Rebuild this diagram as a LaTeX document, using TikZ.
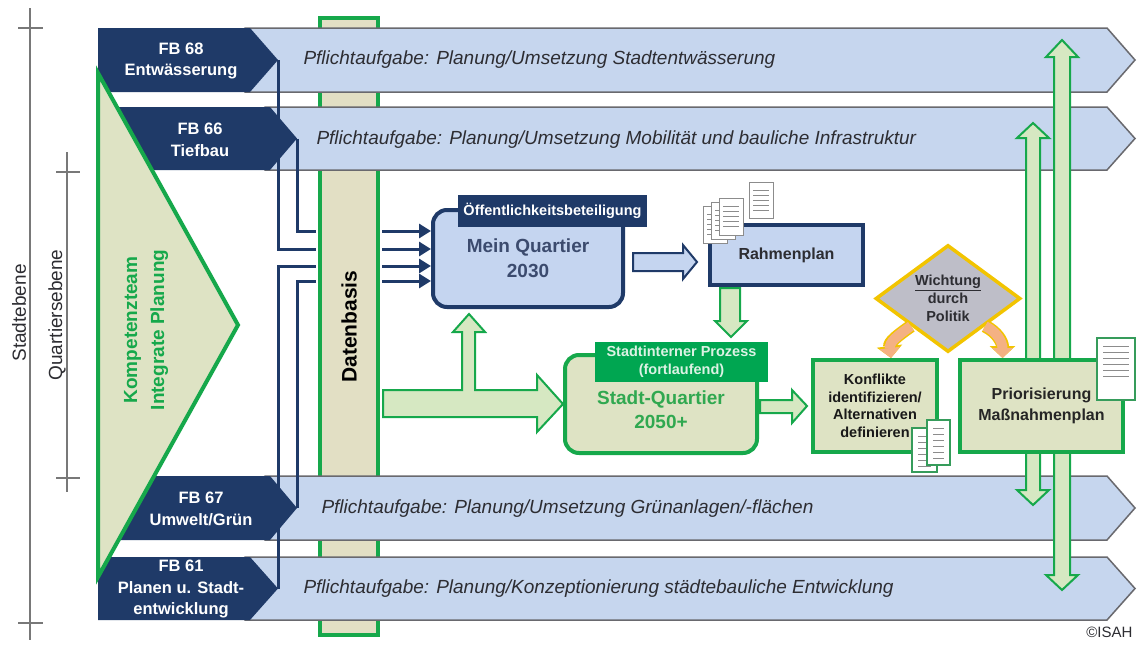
\documentclass[tikz,border=0pt]{standalone}
\usepackage{fontspec}
\setmainfont{Liberation Sans}
\usepackage{tikz}
\usetikzlibrary{arrows,arrows.meta,shapes,calc}
\definecolor{bandblue}{RGB}{198,214,238}
\definecolor{bandgray}{RGB}{105,105,110}
\definecolor{fbblue}{RGB}{31,58,104}
\definecolor{boxblue}{RGB}{197,213,240}
\definecolor{kgreen}{RGB}{22,168,75}
\definecolor{kbeige}{RGB}{222,227,196}
\definecolor{colbeige}{RGB}{226,223,196}
\definecolor{arrowfill}{RGB}{214,232,194}
\definecolor{headgreen}{RGB}{0,166,81}
\definecolor{sqgreen}{RGB}{48,168,80}
\definecolor{mqtext}{RGB}{60,75,110}
\definecolor{textgray}{RGB}{45,45,50}
\definecolor{axisgray}{RGB}{120,120,120}
\definecolor{dgray}{RGB}{190,190,200}
\definecolor{gold}{RGB}{242,196,0}
\definecolor{arroworange}{RGB}{244,177,131}
\definecolor{docgray}{RGB}{140,140,140}
\tikzstyle{bandlight}=[fill=bandblue,draw=bandgray,line width=1.5pt]
\tikzstyle{banddark}=[fill=fbblue]
\tikzstyle{bandtext}=[anchor=west,text=textgray,font=\fontsize{19}{22}\selectfont\itshape]
\tikzstyle{fblabel}=[align=center,text=white,font=\fontsize{16.5}{21.5}\selectfont\bfseries]
\tikzstyle{axis}=[draw=axisgray,line width=1.5pt]
\tikzstyle{axistext}=[rotate=90,text=textgray,font=\fontsize{19}{22}\selectfont]
\tikzstyle{feed}=[draw=fbblue,line width=3pt]
\tikzstyle{feedarrow}=[feed,-{Triangle[length=12pt,width=14pt]}]
\tikzstyle{dbcol}=[draw=kgreen,line width=4pt,fill=colbeige]
\tikzstyle{greenbox}=[draw=kgreen,line width=4pt,fill=kbeige]
\tikzstyle{bluebox}=[draw=fbblue,line width=4pt,fill=boxblue]
\tikzstyle{greenarrow}=[draw=kgreen,line width=2pt,fill=arrowfill]
\tikzstyle{bluearrow}=[draw=fbblue,line width=2pt,fill=boxblue]
\tikzstyle{docpage}=[draw=docgray,fill=white,line width=0.8pt]
\tikzstyle{docpagegreen}=[draw=kgreen!70!gray,fill=white,line width=1.2pt]
\tikzstyle{docline}=[draw=docgray,line width=0.6pt]
\tikzstyle{politik}=[draw=arroworange,line width=10pt,-{Triangle[length=10pt,width=20pt]},
  preaction={draw=gold,line width=13pt,-{Triangle[length=12pt,width=25pt]}}]

\begin{document}
\begin{tikzpicture}[x=1pt,y=-1pt]
	\useasboundingbox (0,0) rectangle (1137,645);
	\fill[white] (0,0) rectangle (1137,645);
	% levels
	\draw[axis] (30,8) -- (30,640);
	\draw[axis] (18,28) -- (43,28);
	\draw[axis] (18,623) -- (43,623);
	\node[axistext] (stadt) at (19,313) {Stadtebene};
	\draw[axis] (67,152) -- (67,492);
	\draw[axis] (56,172) -- (80,172);
	\draw[axis] (56,478) -- (80,478);
	\node[axistext] (quartier) at (57,315) {Quartiersebene};
	% data column
	\node[dbcol,minimum width=58pt,minimum height=617pt] (db) at (349,326.5) {};
	\node[rotate=90,font=\fontsize{21}{24}\selectfont\bfseries] (dbtext) at (db.center) {Datenbasis};
	% bands
	\draw[bandlight] (245,28) -- (1107,28) -- (1135,60) -- (1107,92) -- (245,92) -- cycle;
	\fill[banddark] (98,28) -- (250,28) -- (278,60) coordinate (fb68tip) -- (250,92) -- (98,92) -- cycle;
	\draw[bandlight] (265,107) -- (1107,107) -- (1135,138.5) -- (1107,170) -- (265,170) -- cycle;
	\fill[banddark] (98,107) -- (270,107) -- (297,138.5) coordinate (fb66tip) -- (270,170) -- (98,170) -- cycle;
	\draw[bandlight] (265,476) -- (1107,476) -- (1135,508) -- (1107,540) -- (265,540) -- cycle;
	\fill[banddark] (98,476) -- (270,476) -- (297,508) coordinate (fb67tip) -- (270,540) -- (98,540) -- cycle;
	\draw[bandlight] (245,557) -- (1107,557) -- (1135,588.5) -- (1107,620) -- (245,620) -- cycle;
	\fill[banddark] (98,557) -- (250,557) -- (278,588.5) coordinate (fb61tip) -- (250,620) -- (98,620) -- cycle;
	\node[bandtext] (t68) at (300,60) {Pflichtaufgabe: Planung/Umsetzung Stadtentwässerung};
	\node[bandtext] (t66) at (313,140) {Pflichtaufgabe: Planung/Umsetzung Mobilität und bauliche Infrastruktur};
	\node[bandtext] (t67) at (318,509) {Pflichtaufgabe: Planung/Umsetzung Grünanlagen/-flächen};
	\node[bandtext] (t61) at (300,589) {Pflichtaufgabe: Planung/Konzeptionierung städtebauliche Entwicklung};
	% team
	\draw[greenbox] (98,73) -- (238,325) -- (98,577) -- cycle;
	\node[rotate=90,align=center,text=kgreen,font=\fontsize{19}{27}\selectfont\bfseries] (kteam) at (146,330) {Kompetenzteam\\Integrate Planung};
	\node[fblabel] (fb68) at (181,61) {FB 68\\Entwässerung};
	\node[fblabel] (fb66) at (200,140) {FB 66\\Tiefbau};
	\node[fblabel] (fb67) at (201,509) {FB 67\\Umwelt/Grün};
	\node[fblabel] (fb61) at (181,589) {FB 61\\Planen u. Stadt-\\entwicklung};
	% vertical arrows
	\draw[greenarrow] (1026,138) -- (1017,138) -- (1033,123) -- (1049,138) -- (1040,138) -- (1040,490) -- (1049,490) -- (1033,505) -- (1017,490) -- (1026,490) -- cycle;
	\draw[greenarrow] (1054,57) -- (1046,57) -- (1062,40) -- (1078,57) -- (1070,57) -- (1070,575) -- (1078,575) -- (1062,590) -- (1046,575) -- (1054,575) -- cycle;
	% boxes
	\node[bluebox,rounded corners=14pt,minimum width=190pt,minimum height=97pt,align=center,text=mqtext,font=\fontsize{19}{25}\selectfont\bfseries] (mq) at (528,258.5) {Mein Quartier\\2030};
	\node[fill=fbblue,text=white,minimum width=189pt,minimum height=32pt,inner sep=0pt,font=\fontsize{14.5}{17}\selectfont\bfseries] (mqhead) at (552.5,211) {Öffentlichkeitsbeteiligung};
	\node[bluebox,minimum width=153pt,minimum height=60pt,text=textgray,font=\fontsize{16}{19}\selectfont\bfseries] (rp) at (786.5,255) {Rahmenplan};
	\node[greenbox,rounded corners=14pt,minimum width=192pt,minimum height=98pt] (sq) at (661,404) {};
	\node[align=center,text=sqgreen,font=\fontsize{19}{24}\selectfont\bfseries] (sqtext) at ([yshift=-6pt]sq.center) {Stadt-Quartier\\2050+};
	\node[fill=headgreen,text=white!85!kgreen,minimum width=173pt,minimum height=40pt,inner sep=0pt,align=center,font=\fontsize{14.5}{18}\selectfont\bfseries] (sqhead) at (681.5,362) {Stadtinterner Prozess\\(fortlaufend)};
	\node[greenbox,minimum width=124pt,minimum height=92pt,align=center,text=black!90,font=\fontsize{14.5}{17.5}\selectfont\bfseries] (kf) at (875,406) {Konflikte\\identifizieren/\\Alternativen\\definieren};
	\node[greenbox,minimum width=163pt,minimum height=92pt,align=center,text=black!85,font=\fontsize{16}{21}\selectfont\bfseries] (pr) at (1041.5,406) {Priorisierung\\Maßnahmenplan};
	% feeds into Mein Quartier
	\coordinate (in1) at ([yshift=27.5pt]mq.west);
	\coordinate (in2) at ([yshift=9.5pt]mq.west);
	\coordinate (in3) at ([yshift=-7.5pt]mq.west);
	\coordinate (in4) at ([yshift=-22.5pt]mq.west);
	\draw[feed,shorten >=2pt] (fb66tip) |- (db.west |- in1);
	\draw[feed,shorten >=2pt] (fb68tip) |- (db.west |- in2);
	\draw[feed,shorten >=2pt] (fb61tip) |- (db.west |- in3);
	\draw[feed,shorten >=2pt] (fb67tip) |- (db.west |- in4);
	\draw[feedarrow,shorten <=2pt] (db.east |- in1) -- (in1);
	\draw[feedarrow,shorten <=2pt] (db.east |- in2) -- (in2);
	\draw[feedarrow,shorten <=2pt] (db.east |- in3) -- (in3);
	\draw[feedarrow,shorten <=2pt] (db.east |- in4) -- (in4);
	% block arrows
	\draw[bluearrow] (633,253) -- (683,253) -- (683,245) -- (697,262) -- (683,279) -- (683,271) -- (633,271) -- cycle;
	\draw[greenarrow] (720,288) -- (740,288) -- (740,321) -- (747,321) -- (731,337) -- (715,321) -- (720,321) -- cycle;
	\draw[greenarrow] (760,400) -- (792,400) -- (792,390) -- (807,406) -- (792,423) -- (792,413) -- (760,413) -- cycle;
	\draw[greenarrow] (383,390) -- (462,390) -- (462,332) -- (453,332) -- (469,314) -- (485,332) -- (475,332) -- (475,390) -- (537,390) -- (537,375) -- (563,404) -- (537,432) -- (537,417) -- (383,417) -- cycle;
	% documents
	\foreach \xa/\ya/\xb/\yb in {703/206/727/243, 711/202/735/239, 719/198/743/235, 749/182/773/218}{
		\draw[docpage] (\xa,\ya) rectangle (\xb,\yb);
		\foreach \k in {1,...,5}
			\draw[docline] (\xa+4,\ya+3+5*\k) -- (\xb-4,\ya+3+5*\k);
	}
	\foreach \xa/\ya/\xb/\yb in {912/428/937/472, 927/420/950/465, 1097/338/1135/400}{
		\draw[docpagegreen] (\xa,\ya) rectangle (\xb,\yb);
		\foreach \k in {1,...,6}
			\draw[docline] (\xa+6,\ya+2+6*\k) -- (\xb-6,\ya+2+6*\k);
	}
	% politics
	\node[diamond,draw=gold,line width=3.5pt,fill=dgray,minimum width=145pt,minimum height=107pt,aspect=1.36,inner sep=0pt,align=center,text=textgray,font=\fontsize{14.5}{18}\selectfont\bfseries] (dia) at (948,298.5) {\underline{Wichtung}\\durch\\Politik};
	\draw[politik] (dia.south west) .. controls +(-14,10) and +(-2,-16) .. ([xshift=16pt]kf.north);
	\draw[politik] (dia.south east) .. controls +(12,6) and +(0,-16) .. ([xshift=-39pt]pr.north);
	\node[anchor=east,text=textgray,font=\fontsize{15}{18}\selectfont] (isah) at (1136,632) {©ISAH};
\end{tikzpicture}
\end{document}
